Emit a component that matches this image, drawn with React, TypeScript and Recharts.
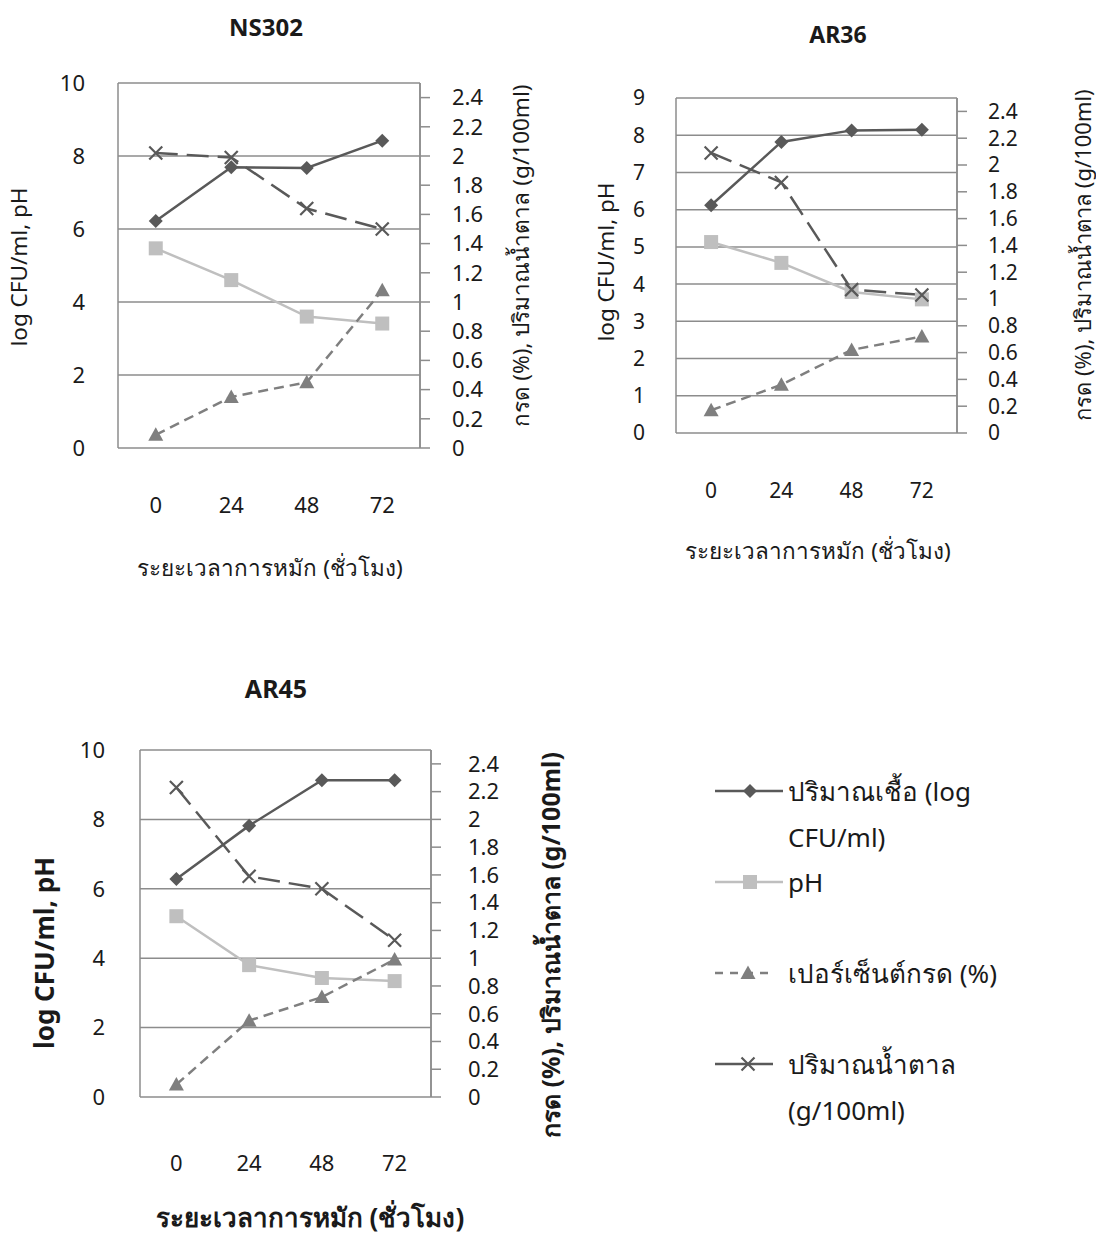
import React from "react";
import { CartesianGrid, ComposedChart, Line, XAxis, YAxis } from "recharts";

// fermentation time (hours)
const hours = ["0", "24", "48", "72"];

const ns302Cfu = [6.22, 7.69, 7.67, 8.42];
const ns302Ph = [5.47, 4.6, 3.6, 3.41];
const ns302Acid = [0.09, 0.35, 0.45, 1.08];
const ns302Sugar = [2.02, 1.99, 1.64, 1.5];

const ar36Cfu = [6.12, 7.82, 8.13, 8.15];
const ar36Ph = [5.13, 4.57, 3.79, 3.59];
const ar36Acid = [0.17, 0.36, 0.62, 0.72];
const ar36Sugar = [2.09, 1.87, 1.07, 1.03];

const ar45Cfu = [6.28, 7.82, 9.13, 9.13];
const ar45Ph = [5.21, 3.8, 3.43, 3.34];
const ar45Acid = [0.09, 0.55, 0.72, 0.99];
const ar45Sugar = [2.23, 1.59, 1.5, 1.13];

const leftTicksEven = [0, 2, 4, 6, 8, 10];
const leftTicksNine = [0, 1, 2, 3, 4, 5, 6, 7, 8, 9];
const rightTicks = [0, 0.2, 0.4, 0.6, 0.8, 1, 1.2, 1.4, 1.6, 1.8, 2, 2.2, 2.4];

const FONT = "'Noto Sans', 'Open Sans', sans-serif";
const TEXT = "#1a1a1a";
const GRID = "#8c8c8c";

const xTitle = "ระยะเวลาการหมัก (ชั่วโมง)";
const leftTitle = "log CFU/ml, pH";
const rightTitle = "กรด (%), ปริมาณน้ำตาล (g/100ml)";

type Marker = "diamond" | "square" | "triangle" | "x";

const SERIES: {
  key: string;
  label: string[];
  axis: string;
  color: string;
  dash?: string;
  legendDash?: string;
  marker: Marker;
}[] = [
  { key: "cfu", label: ["ปริมาณเชื้อ (log", "CFU/ml)"], axis: "left", color: "#595959", marker: "diamond" },
  { key: "ph", label: ["pH"], axis: "left", color: "#bfbfbf", marker: "square" },
  { key: "acid", label: ["เปอร์เซ็นต์กรด (%)"], axis: "right", color: "#7f7f7f", dash: "10 6", legendDash: "8 7", marker: "triangle" },
  { key: "sugar", label: ["ปริมาณน้ำตาล", "(g/100ml)"], axis: "right", color: "#595959", dash: "22 9", marker: "x" },
];

function MarkerShape({ type, cx, cy, color }: { type: Marker; cx: number; cy: number; color: string }) {
  if (cx == null || cy == null) return null;
  if (type === "diamond") {
    const r = 7;
    return <path d={`M${cx},${cy - r}L${cx + r},${cy}L${cx},${cy + r}L${cx - r},${cy}Z`} fill={color} />;
  }
  if (type === "square") {
    const r = 7;
    return <rect x={cx - r} y={cy - r} width={r * 2} height={r * 2} fill={color} />;
  }
  if (type === "triangle") {
    const r = 7.5;
    return <path d={`M${cx},${cy - r}L${cx + r},${cy + 6}L${cx - r},${cy + 6}Z`} fill={color} />;
  }
  const r = 6.5;
  return (
    <path
      d={`M${cx - r},${cy - r}L${cx + r},${cy + r}M${cx - r},${cy + r}L${cx + r},${cy - r}`}
      stroke={color}
      strokeWidth={2.2}
      fill="none"
    />
  );
}

type Pos = { x: number; y: number };

interface PanelProps {
  title: string;
  cfu: number[];
  ph: number[];
  acid: number[];
  sugar: number[];
  leftTicks: number[];
  box: { left: number; top: number; width: number; height: number };
  plot: { left: number; right: number; top: number; bottom: number };
  fontSize: number;
  titleSize: number;
  labelSize: number;
  rightLabelSize: number;
  bold?: boolean;
  leftGap: number;
  rightGap: number;
  xGap: number;
  titlePos: Pos;
  xTitlePos: Pos;
  leftTitlePos: Pos;
  rightTitlePos: Pos;
}

// horizontal text centred on a point
function FlatText({ pos, size, weight, text }: { pos: Pos; size: number; weight: number; text: string }) {
  return (
    <div
      style={{
        position: "absolute",
        left: pos.x,
        top: pos.y,
        transform: "translate(-50%, -50%)",
        whiteSpace: "nowrap",
        fontSize: size,
        fontWeight: weight,
        color: TEXT,
        lineHeight: 1.2,
      }}
    >
      {text}
    </div>
  );
}

// text reading bottom-to-top, centred on a point
function UpText({ pos, size, weight, text }: { pos: Pos; size: number; weight: number; text: string }) {
  return (
    <div
      style={{
        position: "absolute",
        left: pos.x,
        top: pos.y,
        transform: "translate(-50%, -50%) rotate(180deg)",
        writingMode: "vertical-rl",
        whiteSpace: "nowrap",
        fontSize: size,
        fontWeight: weight,
        color: TEXT,
        lineHeight: 1.2,
      }}
    >
      {text}
    </div>
  );
}

function Panel(p: PanelProps) {
  const data = hours.map((h, i) => ({ hour: h, cfu: p.cfu[i], ph: p.ph[i], acid: p.acid[i], sugar: p.sugar[i] }));
  const { box, plot } = p;
  const leftW = plot.left - box.left;
  const rightW = box.left + box.width - plot.right;
  const xH = box.top + box.height - plot.bottom;
  const labelWeight = p.bold ? 700 : 400;
  const tickStyle = { fill: TEXT, fontSize: p.fontSize, fontFamily: FONT };

  return (
    <>
      <FlatText pos={p.titlePos} size={p.titleSize} weight={700} text={p.title} />
      <UpText pos={p.leftTitlePos} size={p.labelSize} weight={labelWeight} text={leftTitle} />
      <UpText pos={p.rightTitlePos} size={p.rightLabelSize} weight={labelWeight} text={rightTitle} />
      <FlatText pos={p.xTitlePos} size={p.labelSize} weight={labelWeight} text={xTitle} />
      <div style={{ position: "absolute", left: box.left, top: box.top }}>
        <ComposedChart
          width={box.width}
          height={box.height}
          data={data}
          margin={{ top: plot.top - box.top, right: 0, bottom: 0, left: 0 }}
        >
          <CartesianGrid
            yAxisId="left"
            stroke={GRID}
            strokeWidth={1.5}
            verticalCoordinatesGenerator={({ offset }: any) => [offset.left, offset.left + offset.width]}
          />
          <XAxis
            dataKey="hour"
            scale="band"
            height={xH}
            axisLine={false}
            tickLine={false}
            tickSize={0}
            tickMargin={p.xGap}
            tick={tickStyle}
            interval={0}
          />
          <YAxis
            yAxisId="left"
            width={leftW}
            domain={[p.leftTicks[0], p.leftTicks[p.leftTicks.length - 1]]}
            ticks={p.leftTicks}
            axisLine={false}
            tickLine={false}
            tickSize={0}
            tickMargin={p.leftGap}
            tick={tickStyle}
            interval={0}
          />
          <YAxis
            yAxisId="right"
            orientation="right"
            width={rightW}
            domain={[0, 2.5]}
            ticks={rightTicks}
            axisLine={{ stroke: GRID, strokeWidth: 1.5 }}
            tickLine={{ stroke: GRID, strokeWidth: 1.5 }}
            tickSize={10}
            tickMargin={p.rightGap}
            tick={tickStyle}
            interval={0}
          />
          {SERIES.map((s) => (
            <Line
              key={s.key}
              yAxisId={s.axis}
              dataKey={s.key}
              stroke={s.color}
              strokeWidth={2.5}
              strokeDasharray={s.dash}
              type="linear"
              isAnimationActive={false}
              dot={(d: any) => (
                <MarkerShape key={`${s.key}-${d.index}`} type={s.marker} cx={d.cx} cy={d.cy} color={s.color} />
              )}
              activeDot={false}
            />
          ))}
        </ComposedChart>
      </div>
    </>
  );
}

function LegendBox() {
  const lineH = 46;
  return (
    <div style={{ position: "absolute", left: 715, top: 768, fontSize: 26, color: TEXT }}>
      {SERIES.map((s) => (
        <div key={s.key} style={{ position: "relative", height: lineH * 2 - 1 }}>
          <svg width={70} height={lineH} style={{ position: "absolute", left: 0, top: 0 }}>
            <line
              x1={0}
              x2={s.dash ? 58 : 68}
              y1={lineH / 2}
              y2={lineH / 2}
              stroke={s.color}
              strokeWidth={2.5}
              strokeDasharray={s.legendDash}
            />
            <MarkerShape type={s.marker} cx={s.dash ? 33 : 35} cy={lineH / 2} color={s.color} />
          </svg>
          <div style={{ position: "absolute", left: 73, top: 0, lineHeight: `${lineH}px`, whiteSpace: "nowrap" }}>
            {s.label.map((l) => (
              <div key={l}>{l}</div>
            ))}
          </div>
        </div>
      ))}
    </div>
  );
}

export default function App() {
  return (
    <div
      style={{
        position: "absolute",
        left: 0,
        top: 0,
        width: 1096,
        height: 1234,
        background: "#fff",
        fontFamily: FONT,
        overflow: "hidden",
      }}
    >
      <Panel
        title="NS302"
        cfu={ns302Cfu}
        ph={ns302Ph}
        acid={ns302Acid}
        sugar={ns302Sugar}
        leftTicks={leftTicksEven}
        box={{ left: 50, top: 60, width: 450, height: 480 }}
        plot={{ left: 118, right: 420, top: 83, bottom: 448 }}
        fontSize={22}
        titleSize={24}
        labelSize={22.5}
        rightLabelSize={22.5}
        leftGap={33}
        rightGap={22}
        xGap={49}
        titlePos={{ x: 266, y: 27 }}
        xTitlePos={{ x: 270, y: 567 }}
        leftTitlePos={{ x: 18, y: 267 }}
        rightTitlePos={{ x: 520, y: 256 }}
      />
      <Panel
        title="AR36"
        cfu={ar36Cfu}
        ph={ar36Ph}
        acid={ar36Acid}
        sugar={ar36Sugar}
        leftTicks={leftTicksNine}
        box={{ left: 620, top: 80, width: 420, height: 440 }}
        plot={{ left: 676, right: 957, top: 98, bottom: 433 }}
        fontSize={21}
        titleSize={23}
        labelSize={22.5}
        rightLabelSize={22}
        leftGap={31}
        rightGap={21}
        xGap={50}
        titlePos={{ x: 838, y: 35 }}
        xTitlePos={{ x: 818, y: 550 }}
        leftTitlePos={{ x: 605, y: 262 }}
        rightTitlePos={{ x: 1082, y: 255 }}
      />
      <Panel
        title="AR45"
        cfu={ar45Cfu}
        ph={ar45Ph}
        acid={ar45Acid}
        sugar={ar45Sugar}
        leftTicks={leftTicksEven}
        box={{ left: 60, top: 730, width: 460, height: 470 }}
        plot={{ left: 140, right: 431, top: 750, bottom: 1097 }}
        fontSize={22}
        titleSize={25}
        labelSize={26}
        rightLabelSize={25}
        bold
        leftGap={35}
        rightGap={27}
        xGap={58}
        titlePos={{ x: 276, y: 688 }}
        xTitlePos={{ x: 310, y: 1218 }}
        leftTitlePos={{ x: 45, y: 953 }}
        rightTitlePos={{ x: 550, y: 945 }}
      />
      <LegendBox />
    </div>
  );
}
